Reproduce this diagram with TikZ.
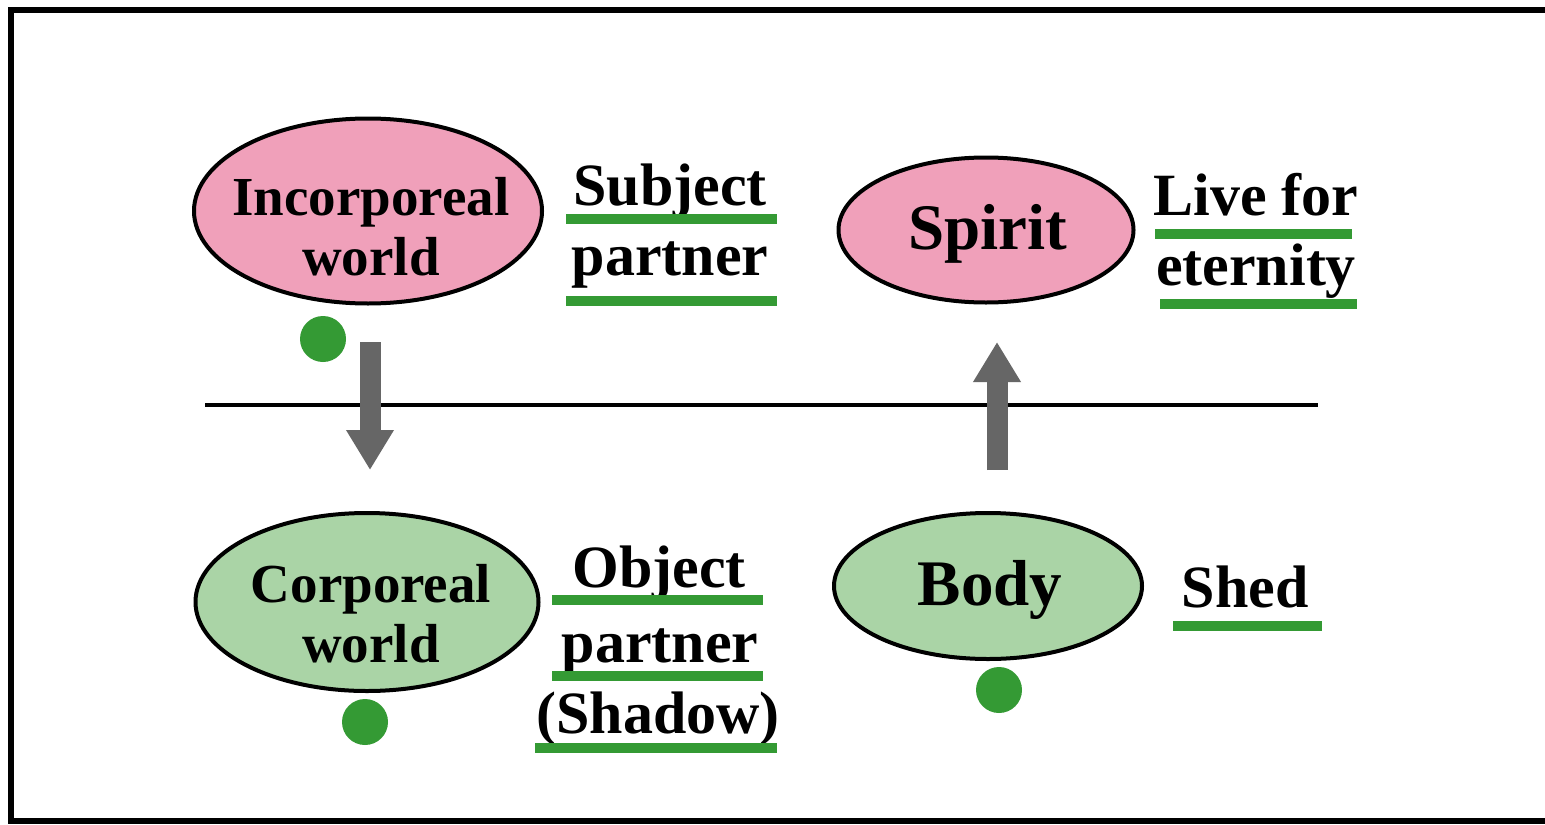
\documentclass[tikz,border=0pt]{standalone}
\usepackage{fontspec}
\setmainfont{Liberation Serif}
\usepackage{tikz}
\usetikzlibrary{arrows.meta, shapes.geometric}

\definecolor{pinkfill}{RGB}{240,160,186}
\definecolor{greenfill}{RGB}{170,212,166}
\definecolor{bargreen}{RGB}{52,154,52}
\definecolor{arrowgray}{RGB}{102,102,102}

\tikzset{
  oval/.style={ellipse, draw=black, line width=2pt, inner sep=0pt},
  ovaltxt/.style={anchor=base, inner sep=0pt, font=\fontsize{27.5}{30}\selectfont\bfseries},
  bigtxt/.style={anchor=base, inner sep=0pt, font=\fontsize{32.5}{36}\selectfont\bfseries},
  lbl/.style={anchor=base, inner sep=0pt, font=\fontsize{30}{34}\selectfont\bfseries},
  bar/.style={draw=bargreen, line width=5pt},
  dot/.style={circle, fill=bargreen, inner sep=0pt, minimum size=23pt},
  bigarrow/.style={draw=arrowgray, line width=10.5pt, -{Triangle[width=22.5pt, length=20pt]}}
}

\begin{document}
\begin{tikzpicture}[x=0.5pt, y=-0.5pt]
  \useasboundingbox (0,0) rectangle (1545,824);
  \fill[white] (0,0) rectangle (1545,824);
  \draw[line width=2.6pt] (1545,10) -- (11,10) -- (11,821) -- (1545,821);

  % upper level
  \node[oval, fill=pinkfill, minimum width=174pt, minimum height=92.5pt] (inc) at (368,211) {};
  \node[ovaltxt] (inc1) at (371,215) {Incorporeal};
  \node[ovaltxt] (inc2) at (371,275) {world};
  \node[oval, fill=pinkfill, minimum width=147.5pt, minimum height=72.5pt] (spi) at (986,230) {};
  \node[bigtxt] (spi1) at (988,249) {Spirit};

  \node[lbl] (sub1) at (670,205) {Subject};
  \node[lbl] (sub2) at (670,275) {partner};
  \node[lbl] (liv1) at (1256,215) {Live for};
  \node[lbl] (liv2) at (1256,285) {eternity};

  % lower level
  \node[oval, fill=greenfill, minimum width=171.5pt, minimum height=89pt] (cor) at (367,602) {};
  \node[ovaltxt] (cor1) at (371,602) {Corporeal};
  \node[ovaltxt] (cor2) at (371,662) {world};
  \node[oval, fill=greenfill, minimum width=154pt, minimum height=73pt] (bod) at (988,586) {};
  \node[bigtxt] (bod1) at (990,605) {Body};

  \node[lbl] (obj1) at (659,587) {Object};
  \node[lbl] (obj2) at (660,662) {partner};
  \node[lbl] (obj3) at (658,733) {(Shadow)};
  \node[lbl] (she1) at (1245,607) {Shed};

  % underlines
  \draw[bar] (566,219) -- (777,219);
  \draw[bar] (566,301) -- (777,301);
  \draw[bar] (1155,234) -- (1352,234);
  \draw[bar] (1160,304) -- (1357,304);
  \draw[bar] (552,600) -- (763,600);
  \draw[bar] (552,676) -- (763,676);
  \draw[bar] (535,748) -- (777,748);
  \draw[bar] (1173,626) -- (1322,626);

  % dots
  \node[dot] (d1) at (323,339) {};
  \node[dot] (d2) at (365,722) {};
  \node[dot] (d3) at (999,690) {};

  % divider and arrows
  \coordinate (L0) at (205,405);
  \coordinate (L1) at (1318,405);
  \draw[line width=2.2pt] (L0) -- (L1);

  \coordinate (A0) at (370,342);
  \coordinate (A1) at (370,470);
  \coordinate (B0) at (997,470);
  \coordinate (B1) at (997,342);
  \draw[bigarrow] (A0) -- (A1);
  \draw[bigarrow] (B0) -- (B1);
\end{tikzpicture}
\end{document}
